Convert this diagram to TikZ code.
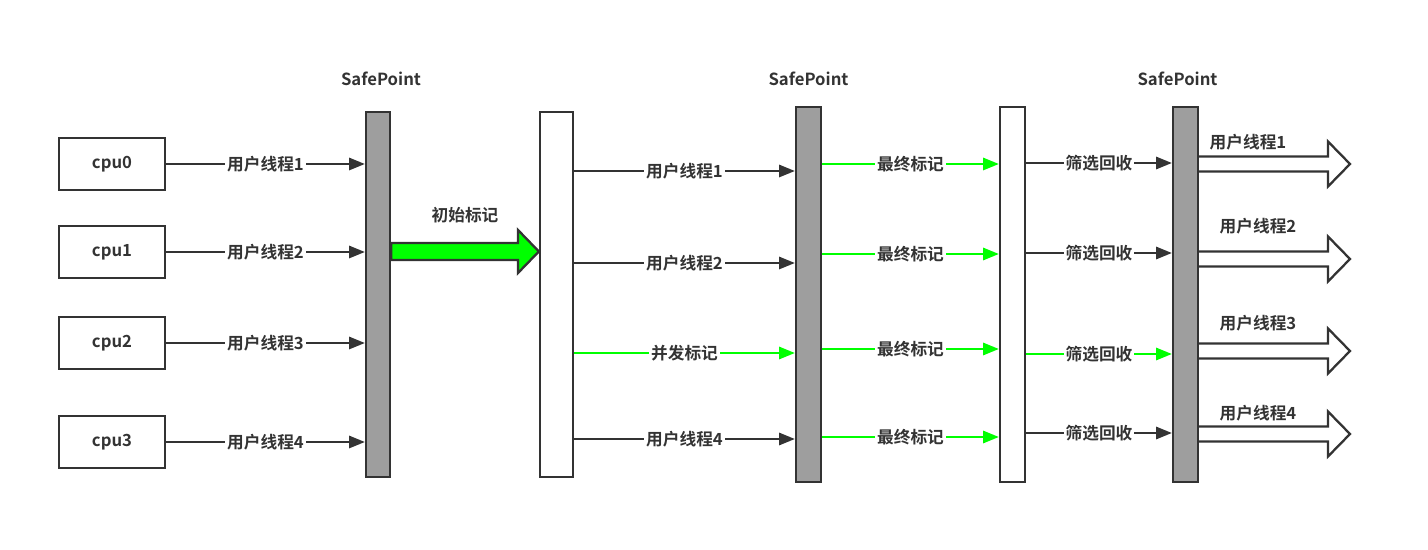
\documentclass[tikz,border=0pt]{standalone}
\usepackage{fontspec}
\setmainfont{Noto Sans CJK SC}[BoldFont={* Bold}]
\usepackage{xcolor}
\usetikzlibrary{positioning,arrows.meta}
\definecolor{LineGray}{HTML}{333333}
\definecolor{BarGray}{HTML}{9E9E9E}
\definecolor{MarkGreen}{HTML}{00FF00}

\begin{document}
\begin{tikzpicture}[x=0.02cm, y=-0.02cm,
    every node/.style={font=\fontsize{9.5}{11}\selectfont\bfseries, text=LineGray}]
    \tikzstyle{cpubox}=[draw=LineGray, line width=1.3pt, fill=white,
                        minimum width=2.12cm, minimum height=1.04cm]
    \tikzstyle{sbar}=[draw=LineGray, line width=1.3pt, fill=BarGray,
                      minimum width=0.5cm, minimum height=7.5cm, inner sep=0pt]
    \tikzstyle{wbar}=[draw=LineGray, line width=1.3pt, fill=white,
                      minimum width=0.5cm, minimum height=7.5cm, inner sep=0pt]
    \tikzstyle{conn}=[line width=1.2pt, draw=LineGray,
                      -{Triangle[length=9pt, width=7pt]}]
    \tikzstyle{gconn}=[conn, draw=MarkGreen, -{Triangle[length=9pt, width=7pt, fill=MarkGreen]}]
    \tikzstyle{lbl}=[fill=white, inner sep=1pt]
    \tikzstyle{fat}=[draw=LineGray, line width=1.3pt, line join=miter]

    \useasboundingbox (0,0) rectangle (1428,550);

    % cpus
    \node[cpubox] (cpu0) at (112,164) {cpu0};
    \node[cpubox] (cpu1) at (112,252) {cpu1};
    \node[cpubox] (cpu2) at (112,343) {cpu2};
    \node[cpubox] (cpu3) at (112,442) {cpu3};

    % bars
    \node[sbar, minimum width=0.48cm, minimum height=7.3cm] (sp1) at (378,294.5) {};
    \node[wbar, minimum width=0.66cm, minimum height=7.3cm] (w1) at (556.5,294.5) {};
    \node[sbar] (sp2) at (808.5,294.5) {};
    \node[wbar] (w2) at (1012.5,294.5) {};
    \node[sbar] (sp3) at (1185.5,294.5) {};

    \node[above=0.38cm of sp1, xshift=0.06cm] (sp1lbl) {SafePoint};
    \node[above=0.28cm of sp2] (sp2lbl) {SafePoint};
    \node[above=0.28cm of sp3, xshift=-0.16cm] (sp3lbl) {SafePoint};

    % cpu -> first safepoint
    \foreach \i in {0,1,2,3} {
        \pgfmathtruncatemacro{\n}{\i+1}
        \draw[conn] (cpu\i.east) -- node[lbl, pos=0.5] {用户线程\n} (cpu\i.east -| sp1.west);
    }

    % initial mark
    \draw[fat, fill=MarkGreen] (sp1.east |- 0,243) -- (518,243) -- (518,230) -- (w1.west |- 0,251.5)
        -- (518,273) -- (518,260) -- (sp1.east |- 0,260) -- cycle;
    \node (init) at (465,215) {初始标记};

    % concurrent phase
    \draw[conn] (w1.east |- 0,171) -- node[lbl] {用户线程1} (sp2.west |- 0,171);
    \draw[conn] (w1.east |- 0,263) -- node[lbl] {用户线程2} (sp2.west |- 0,263);
    \draw[gconn] (w1.east |- 0,353) -- node[lbl] {并发标记} (sp2.west |- 0,353);
    \draw[conn] (w1.east |- 0,439) -- node[lbl] {用户线程4} (sp2.west |- 0,439);

    % final mark
    \foreach \y in {164,254,349,437}
        \draw[gconn] (sp2.east |- 0,\y) -- node[lbl] {最终标记} (w2.west |- 0,\y);

    % sweep
    \draw[conn] (w2.east |- 0,163) -- node[lbl] {筛选回收} (sp3.west |- 0,163);
    \draw[conn] (w2.east |- 0,253) -- node[lbl] {筛选回收} (sp3.west |- 0,253);
    \draw[gconn] (w2.east |- 0,354) -- node[lbl] {筛选回收} (sp3.west |- 0,354);
    \draw[conn] (w2.east |- 0,433) -- node[lbl] {筛选回收} (sp3.west |- 0,433);

    % user threads resume
    \foreach \y/\lx/\ly [count=\n] in {164/1248/142, 259/1258/226, 351/1258/323, 434/1258/413} {
        \draw[fat, fill=white] (sp3.east |- 0,\y-7.5) -- (1328,\y-7.5) -- (1328,\y-22.5) -- (1350,\y)
            -- (1328,\y+22.5) -- (1328,\y+7.5) -- (sp3.east |- 0,\y+7.5);
        \node (out\n) at (\lx,\ly) {用户线程\n};
    }

\end{tikzpicture}
\end{document}
